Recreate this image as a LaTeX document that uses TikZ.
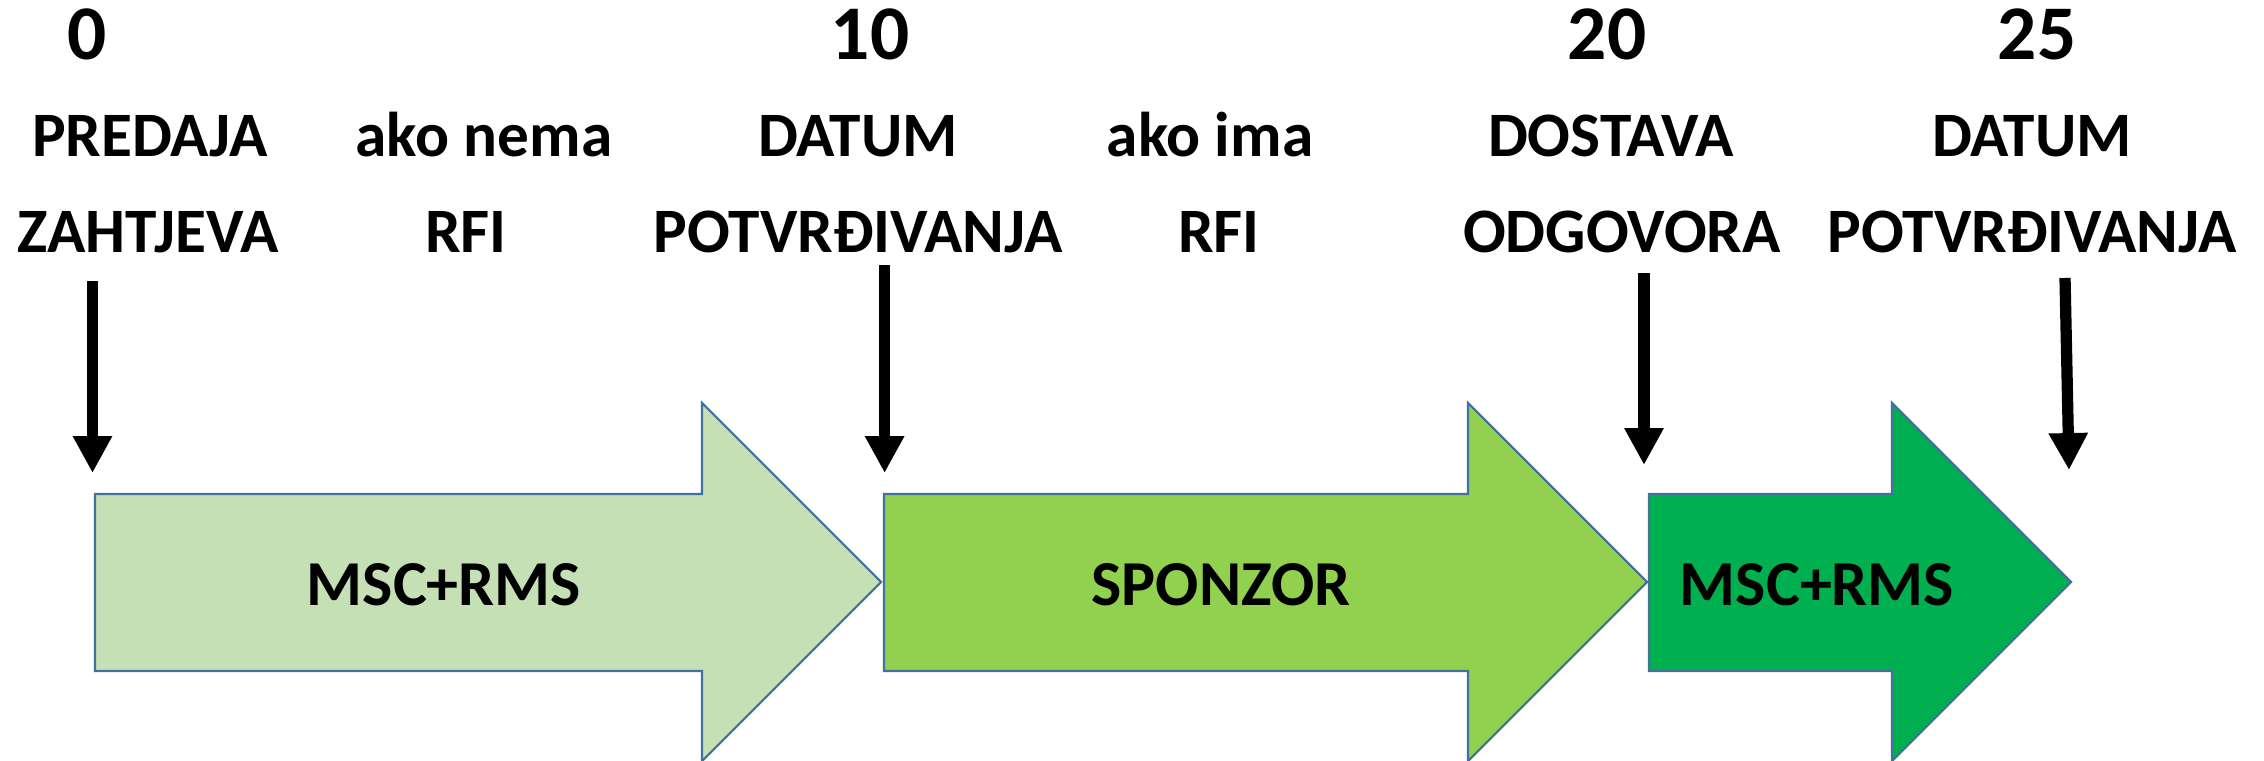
\documentclass[tikz,border=0pt]{standalone}
\usepackage{fontspec}
\setmainfont{Carlito}
\usepackage{tikz}
\usetikzlibrary{arrows.meta}

\definecolor{palegreen}{HTML}{C5E0B4}
\definecolor{midgreen}{HTML}{92D050}
\definecolor{deepgreen}{HTML}{00B050}
\definecolor{rimblue}{HTML}{41719C}

\tikzset{
 daynum/.style={font=\fontsize{22}{26}\selectfont\bfseries, anchor=base, inner sep=0pt},
 steplabel/.style={font=\fontsize{18}{21}\selectfont\bfseries, anchor=base, inner sep=0pt},
 phase/.style={draw=rimblue, line width=0.6pt},
 phasetext/.style={font=\fontsize{18.2}{21}\selectfont\bfseries, anchor=base, inner sep=0pt},
 marker/.style={line width=3.2pt, -{Triangle[width=10.5pt,length=10.5pt]}}
}

\begin{document}
\begin{tikzpicture}[x=0.01cm, y=-0.01cm]
 \useasboundingbox (0,0) rectangle (2264,761);

 % phases
 \draw[phase, fill=palegreen] (95,494) -- (702,494) -- (702,403) -- (881,582) -- (702,761) -- (702,671) -- (95,671) -- cycle;
 \draw[phase, fill=midgreen] (884,494) -- (1468,494) -- (1468,403) -- (1647,582) -- (1468,761) -- (1468,671) -- (884,671) -- cycle;
 \draw[phase, fill=deepgreen] (1649,494) -- (1892,494) -- (1892,403) -- (2071,582) -- (1892,761) -- (1892,671) -- (1649,671) -- cycle;

 \node[name=phaseone, phasetext] at (444,605) {MSC+RMS};
 \node[name=phasetwo, phasetext] at (1221,605) {SPONZOR};
 \node[name=phasethree, phasetext] at (1817,605) {MSC+RMS};

 % days
 \node[name=numzero, daynum] at (87,60) {0};
 \node[name=numten, daynum] at (870,60) {10};
 \node[name=numtwenty, daynum] at (1607,60) {20};
 \node[name=numtwentyfive, daynum] at (2037,60) {25};

 % labels
 \node[name=predaja, steplabel] at (150,157) {PREDAJA};
 \node[name=zahtjeva, steplabel] at (148,253) {ZAHTJEVA};
 \node[name=akonema, steplabel] at (484,157) {ako nema};
 \node[name=rfinone, steplabel] at (466,253) {RFI};
 \node[name=datumone, steplabel] at (858,157) {DATUM};
 \node[name=potvrdone, steplabel] at (858,253) {POTVRĐIVANJA};
 \node[name=akoima, steplabel] at (1210,157) {ako ima};
 \node[name=rfisome, steplabel] at (1219,253) {RFI};
 \node[name=dostava, steplabel] at (1611,157) {DOSTAVA};
 \node[name=odgovora, steplabel] at (1622,253) {ODGOVORA};
 \node[name=datumtwo, steplabel] at (2032,157) {DATUM};
 \node[name=potvrdtwo, steplabel] at (2032,253) {POTVRĐIVANJA};

 % markers
 \coordinate (topzero) at (92.5,281);
 \coordinate (tipzero) at (92.5,473);
 \coordinate (topten) at (884.6,265);
 \coordinate (tipten) at (884.6,473);
 \coordinate (toptwenty) at (1644,273);
 \coordinate (tiptwenty) at (1644,465);
 \coordinate (toptwentyfive) at (2065,278);
 \coordinate (tiptwentyfive) at (2069,470);

 \draw[marker] (topzero) -- (tipzero);
 \draw[marker] (topten) -- (tipten);
 \draw[marker] (toptwenty) -- (tiptwenty);
 \draw[marker] (toptwentyfive) -- (tiptwentyfive);
\end{tikzpicture}
\end{document}
